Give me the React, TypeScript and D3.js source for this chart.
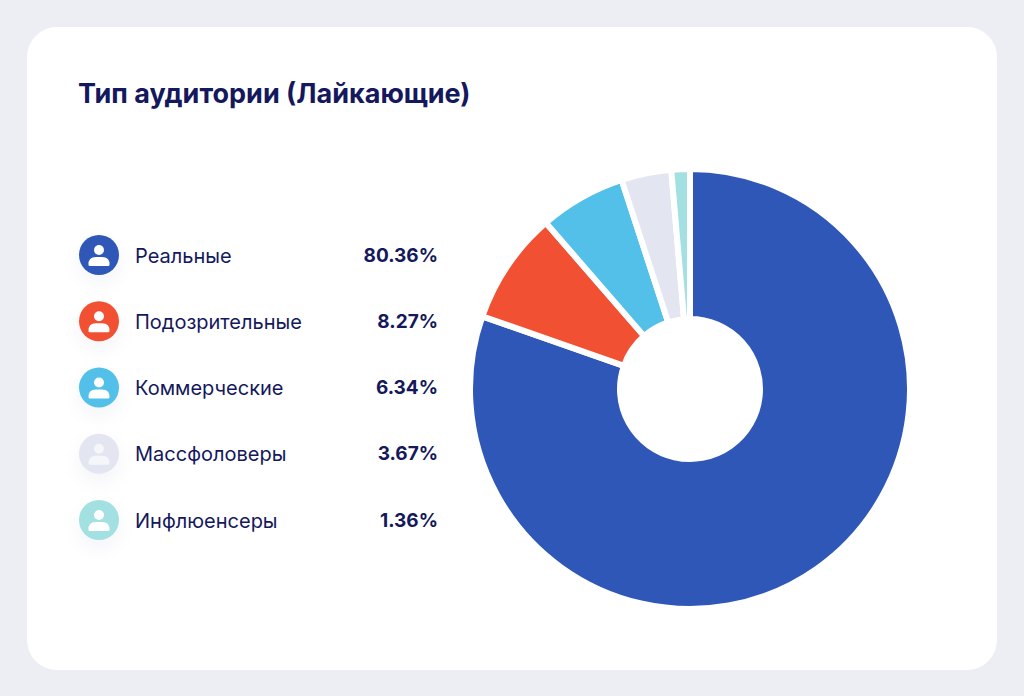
import React, { useEffect, useRef } from 'react';
import * as d3 from 'd3';

const title = 'Тип аудитории (Лайкающие)';
const categories = ['Реальные', 'Подозрительные', 'Коммерческие', 'Массфоловеры', 'Инфлюенсеры'];
const shares = [80.36, 8.27, 6.34, 3.67, 1.36];
const colors = ['#2e57b8', '#f25033', '#52c0e8', '#e3e5f1', '#a3e0e1'];

const WIDTH = 1024;
const HEIGHT = 696;
const FONT = 'Inter, "Noto Sans", sans-serif';
const INK = '#14185c';

export default function App() {
  const svgRef = useRef<SVGSVGElement>(null);

  useEffect(() => {
    if (!svgRef.current) return;
    const svg = d3.select(svgRef.current);
    svg.selectAll('*').remove();

    const defs = svg.append('defs');
    const blur = defs.append('filter').attr('id', 'soft')
      .attr('x', '-50%').attr('y', '-50%').attr('width', '200%').attr('height', '200%');
    blur.append('feGaussianBlur').attr('stdDeviation', 8);

    svg.append('rect').attr('width', WIDTH).attr('height', HEIGHT).attr('fill', '#eceef3');
    svg.append('rect')
      .attr('x', 27).attr('y', 27)
      .attr('width', 970).attr('height', 643)
      .attr('rx', 30)
      .attr('fill', '#ffffff');

    svg.append('text')
      .attr('x', 78).attr('y', 103)
      .attr('fill', INK)
      .attr('font-family', FONT)
      .attr('font-size', 27)
      .attr('font-weight', 700)
      .text(title);

    // Legend rows
    const rowY = d3.scalePoint<string>()
      .domain(categories)
      .range([255, 520]);

    const rows = svg.append('g').selectAll('g')
      .data(categories)
      .join('g')
      .attr('transform', d => `translate(99,${rowY(d)})`);

    rows.append('circle')
      .attr('cy', 8).attr('r', 22)
      .attr('fill', '#dfe2ee').attr('opacity', 0.3)
      .attr('filter', 'url(#soft)');

    rows.append('circle')
      .attr('r', 20)
      .attr('fill', (_, i) => colors[i]);

    // Person glyph
    rows.append('circle')
      .attr('cy', -5).attr('r', 5)
      .attr('fill', '#ffffff').attr('opacity', (_, i) => i === 3 ? 0.65 : 1);
    rows.append('path')
      .attr('d', 'M-10.5,10 Q-11,2 -3,2 L3,2 Q11,2 10.5,10 Q10.5,11 9,11 L-9,11 Q-10.5,11 -10.5,10 Z')
      .attr('fill', '#ffffff').attr('opacity', (_, i) => i === 3 ? 0.65 : 1);

    svg.append('g').selectAll('text')
      .data(categories)
      .join('text')
      .attr('x', 135)
      .attr('y', d => rowY(d)! + 7.5)
      .attr('fill', INK)
      .attr('font-family', FONT)
      .attr('font-size', 20)
      .text(d => d);

    svg.append('g').selectAll('text')
      .data(shares)
      .join('text')
      .attr('x', 438)
      .attr('y', (_, i) => rowY(categories[i])! + 6.5)
      .attr('text-anchor', 'end')
      .attr('fill', INK)
      .attr('font-family', FONT)
      .attr('font-size', 19)
      .attr('font-weight', 700)
      .text(d => `${d.toFixed(2)}%`);

    // Donut
    const pie = d3.pie<number>().sort(null).value(d => d);
    const arc = d3.arc<d3.PieArcDatum<number>>().innerRadius(70).outerRadius(220);

    svg.append('g')
      .attr('transform', 'translate(690,389)')
      .selectAll('path')
      .data(pie(shares))
      .join('path')
      .attr('d', arc)
      .attr('fill', (_, i) => colors[i])
      .attr('stroke', '#ffffff')
      .attr('stroke-width', 6);
  }, []);

  return (
    <div style={{ position: 'absolute', left: 0, top: 0, width: WIDTH, height: HEIGHT }}>
      <svg ref={svgRef} width={WIDTH} height={HEIGHT} style={{ display: 'block' }} />
    </div>
  );
}
